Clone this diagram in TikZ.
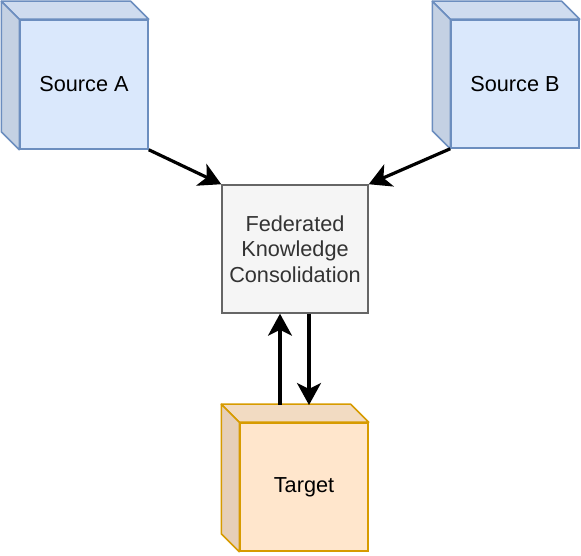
\documentclass[tikz,border=0pt]{standalone}
\usepackage{fontspec}
\setmainfont{Liberation Sans}
\usetikzlibrary{arrows.meta}

\definecolor{blueFill}{HTML}{DAE8FC}
\definecolor{blueTop}{HTML}{CFDCEF}
\definecolor{blueSide}{HTML}{C4D1E3}
\definecolor{blueLine}{HTML}{6C8EBF}
\definecolor{orangeFill}{HTML}{FFE6CC}
\definecolor{orangeTop}{HTML}{F2DBC2}
\definecolor{orangeSide}{HTML}{E6CFB8}
\definecolor{orangeLine}{HTML}{D79B00}
\definecolor{greyFill}{HTML}{F5F5F5}
\definecolor{greyLine}{HTML}{666666}
\definecolor{greyText}{HTML}{333333}

\begin{document}
\begin{tikzpicture}[
        x=1pt, y=1pt,
        every node/.style={font=\fontsize{21.7}{25.5}\selectfont},
        face/.style={rectangle, draw, line width=1.5pt, minimum width=128pt, minimum height=128pt, inner sep=0pt},
        source/.style={face, fill=blueFill, draw=blueLine},
        target/.style={face, fill=orangeFill, draw=orangeLine},
        process/.style={rectangle, draw=greyLine, fill=greyFill, line width=1.5pt, text=greyText, align=center, minimum width=146pt, minimum height=128pt, inner sep=0pt},
        arrow/.style={line width=3.2pt, -{Stealth[length=22pt, width=24pt, inset=6pt]}}
    ]
    \useasboundingbox (0,0) rectangle (581,556);

    \node[source, minimum height=129pt] (srcA) at (84,471.5) {Source A};
    \node[source] (srcB) at (515,472) {Source B};
    \node[process] (fed) at (295,307) {Federated\\Knowledge\\Consolidation};
    \node[target] (tgt) at (304,69) {Target};

    % cube sides
    \filldraw[fill=blueTop, draw=blueLine, line width=1.5pt, line join=round]
        (srcA.north west) -- ++(-18,18) -- ([shift={(-18,18)}]srcA.north east) -- (srcA.north east) -- cycle;
    \filldraw[fill=blueSide, draw=blueLine, line width=1.5pt, line join=round]
        (srcA.north west) -- ++(-18,18) -- ([shift={(-18,18)}]srcA.south west) -- (srcA.south west) -- cycle;
    \filldraw[fill=blueTop, draw=blueLine, line width=1.5pt, line join=round]
        (srcB.north west) -- ++(-18,18) -- ([shift={(-18,18)}]srcB.north east) -- (srcB.north east) -- cycle;
    \filldraw[fill=blueSide, draw=blueLine, line width=1.5pt, line join=round]
        (srcB.north west) -- ++(-18,18) -- ([shift={(-18,18)}]srcB.south west) -- (srcB.south west) -- cycle;
    \filldraw[fill=orangeTop, draw=orangeLine, line width=1.5pt, line join=round]
        (tgt.north west) -- ++(-18,18) -- ([shift={(-18,18)}]tgt.north east) -- (tgt.north east) -- cycle;
    \filldraw[fill=orangeSide, draw=orangeLine, line width=1.5pt, line join=round]
        (tgt.north west) -- ++(-18,18) -- ([shift={(-18,18)}]tgt.south west) -- (tgt.south west) -- cycle;

    \coordinate (up) at (280,151);
    \coordinate (down) at (309,151);

    \draw[arrow] (srcA.south east) -- (fed.north west);
    \draw[arrow] (srcB.south west) -- (fed.north east);
    \draw[arrow] (up) -- (up |- fed.south);
    \draw[arrow] (fed.south -| down) -- (down);
\end{tikzpicture}
\end{document}
